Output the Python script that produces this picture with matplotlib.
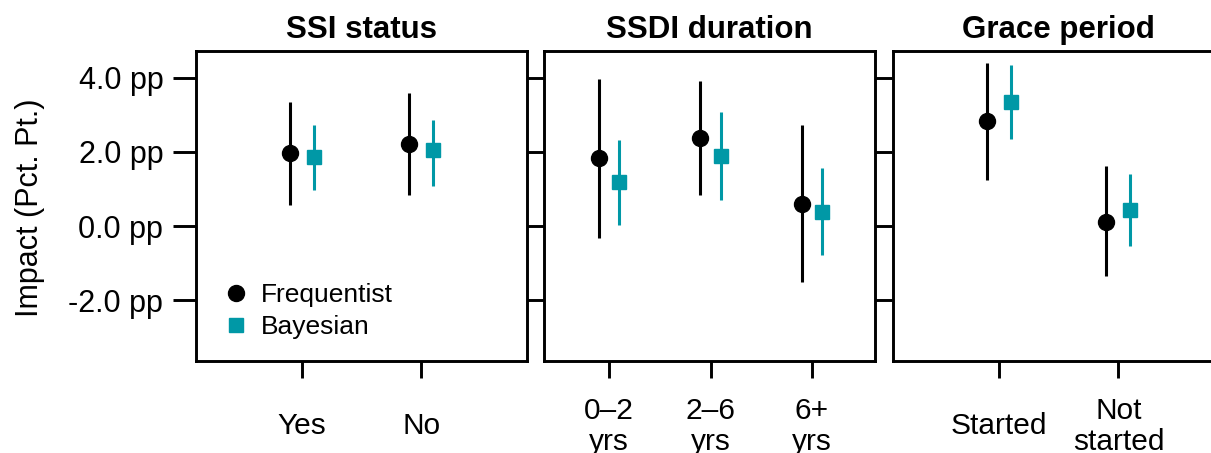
import matplotlib
matplotlib.use('Agg')
import matplotlib.pyplot as plt
from matplotlib.lines import Line2D

plt.rcParams['font.family'] = ['Liberation Sans', 'DejaVu Sans']

# panel titles and categories
panel_titles = ['SSI status', 'SSDI duration', 'Grace period']
panel_cats = [['Yes', 'No'],
              ['0–2\nyrs', '2–6\nyrs', '6+\nyrs'],
              ['Started', 'Not\nstarted']]

# frequentist estimates with interval bounds (pp)
freq_est = [[1.97, 2.22], [1.84, 2.38, 0.59], [2.83, 0.10]]
freq_lo = [[0.58, 0.84], [-0.31, 0.85, -1.52], [1.24, -1.36]]
freq_hi = [[3.34, 3.59], [3.97, 3.90, 2.72], [4.39, 1.61]]

# bayesian estimates with interval bounds (pp)
bayes_est = [[1.86, 2.04], [1.18, 1.88, 0.39], [3.35, 0.42]]
bayes_lo = [[0.98, 1.07], [0.03, 0.69, -0.79], [2.36, -0.55]]
bayes_hi = [[2.73, 2.85], [2.33, 3.07, 1.57], [4.34, 1.39]]

yticks = [-2, 0, 2, 4]
ytick_labels = ['-2.0 pp', '0.0 pp', '2.0 pp', '4.0 pp']

TEAL = '#0098A6'
W, H = 1211, 453

fig = plt.figure(figsize=(W / 100, H / 100), dpi=100)

# panel boxes in pixels: left, right, xlim
boxes = [(196, 527, (0.12, 2.88)),
         (544, 875, (0.36, 3.62)),
         (893, 1224, (0.12, 2.88))]
top_px, bot_px = 51, 361

for i, (l, r, xl) in enumerate(boxes):
    ax = fig.add_axes([l / W, 1 - bot_px / H, (r - l) / W, (bot_px - top_px) / H])
    n = len(panel_cats[i])
    xs = list(range(1, n + 1))
    fx = [x - 0.1 for x in xs]
    bx = [x + 0.1 for x in xs]
    fe, fl, fh = freq_est[i], freq_lo[i], freq_hi[i]
    be, bl, bh = bayes_est[i], bayes_lo[i], bayes_hi[i]
    ax.errorbar(fx, fe, yerr=[[e - lo for e, lo in zip(fe, fl)], [hi - e for e, hi in zip(fe, fh)]],
                fmt='o', color='black', ms=11.5, elinewidth=2.2, capsize=0)
    ax.errorbar(bx, be, yerr=[[e - lo for e, lo in zip(be, bl)], [hi - e for e, hi in zip(be, bh)]],
                fmt='s', color=TEAL, ms=9.5, elinewidth=2.2, capsize=0)

    ax.set_xlim(*xl)
    ax.set_ylim(-3.64, 4.72)
    ax.set_xticks(xs)
    ax.set_xticklabels(panel_cats[i], fontsize=21.5, linespacing=1.15)
    for lbl in ax.get_xticklabels():
        lbl.set_va('center')
    ax.tick_params(axis='x', length=12, width=2.1, pad=35, direction='out')
    ax.set_yticks(yticks)
    if i == 0:
        ax.set_yticklabels(ytick_labels, fontsize=22)
        ax.tick_params(axis='y', left=True, right=True, length=16.5, width=2.1,
                       pad=7, direction='out')
    else:
        ax.tick_params(axis='y', left=False, right=True, labelleft=False,
                       length=12.5, width=2.1, direction='out')
    for s in ax.spines.values():
        s.set_linewidth(2.1)
    ax.set_title(panel_titles[i], fontsize=22.5, fontweight='bold', pad=9)

    if i == 0:
        handles = [Line2D([], [], marker='o', ls='none', color='black', ms=11.5),
                   Line2D([], [], marker='s', ls='none', color=TEAL, ms=9.5)]
        ax.legend(handles, ['Frequentist', 'Bayesian'], loc='lower left',
                  bbox_to_anchor=(0.0, -0.005), frameon=False, fontsize=19,
                  handletextpad=0.35, labelspacing=0.3, handlelength=1.2)

fig.text(30 / W, 1 - 208 / H, 'Impact (Pct. Pt.)', rotation=90, fontsize=22,
         ha='center', va='center')

fig.savefig('out.png', dpi=100)
